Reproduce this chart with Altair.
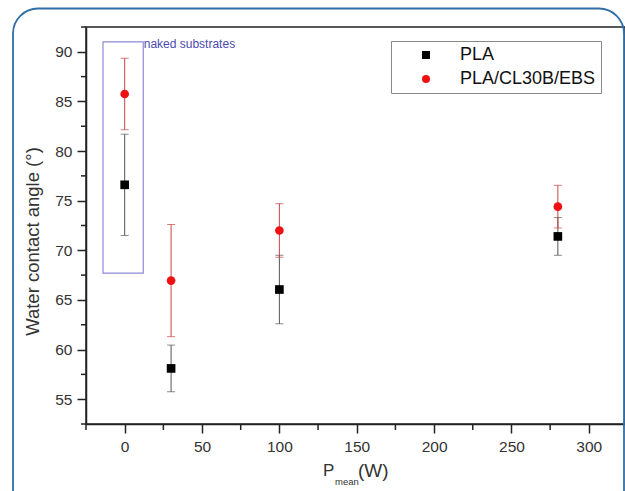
import altair as alt
import pandas as pd

# ---- data ----
powers = [0, 30, 100, 280]
series_names = ["PLA", "PLA/CL30B/EBS"]
pla_mean = [76.6, 58.1, 66.05, 71.4]
pla_err = [5.1, 2.35, 3.45, 1.9]
ebs_mean = [85.75, 66.95, 72.0, 74.4]
ebs_err = [3.6, 5.65, 2.7, 2.15]

x_ticks = [0, 50, 100, 150, 200, 250, 300]
x_minor = [-25, 25, 75, 125, 175, 225, 275]
y_ticks = [55, 60, 65, 70, 75, 80, 85, 90]
y_minor = [52.5, 57.5, 62.5, 67.5, 72.5, 77.5, 82.5, 87.5, 92.5]
x_domain = [-25, 323.4]
y_domain = [52.5, 92.5]

box_x = [-14, 12]
box_y = [67.7, 91.0]
box_label = "naked substrates"
y_title = "Water contact angle (°)"

rows = []
for name, means, errs in ((series_names[0], pla_mean, pla_err),
                          (series_names[1], ebs_mean, ebs_err)):
    for p, m, e in zip(powers, means, errs):
        rows.append(dict(power=p, series=name, mean=m, lo=m - e, hi=m + e))
df = pd.DataFrame(rows)

FONT = "Liberation Sans"

x_axis = alt.Axis(values=x_ticks, title=None, grid=False, tickSize=9,
                  labelPadding=6)
y_axis = alt.Axis(values=y_ticks, title=y_title, grid=False, tickSize=9,
                  labelPadding=5, titleX=-48, titleY=214,
                  titleBaseline="alphabetic", titleFontSize=18.5,
                  titleFontWeight="normal", titleColor="#333333",
                  titleFont=FONT)


def X(field):
    return alt.X(f"{field}:Q", scale=alt.Scale(domain=x_domain, nice=False, zero=False),
                 axis=x_axis, title=None)


def Y(field):
    return alt.Y(f"{field}:Q", scale=alt.Scale(domain=y_domain, nice=False, zero=False),
                 axis=y_axis, title=y_title)


one = pd.DataFrame({"k": [0]})

card = alt.Chart(one).mark_rect(cornerRadius=25, fillOpacity=0, stroke="#2f6fa8",
                                strokeWidth=1.8).encode(
    x=alt.value(-73), x2=alt.value(538), y=alt.value(-18.5), y2=alt.value(495))

box_df = pd.DataFrame({"x": [box_x[0]], "x2": [box_x[1]], "y": [box_y[0]], "y2": [box_y[1]]})
box = alt.Chart(box_df).mark_rect(fillOpacity=0, stroke="#8c8cd8", strokeWidth=1.2).encode(
    x=X("x"), x2="x2", y=Y("y"), y2="y2")

box_text_df = pd.DataFrame({"x": [box_x[1]], "y": [box_y[1]], "t": [box_label]})
box_text = alt.Chart(box_text_df).mark_text(align="left", baseline="middle", dy=2.5, dx=0.5,
                                            fontSize=12, color="#4b4bb0", font=FONT).encode(
    x=X("x"), y=Y("y"), text="t:N")

ymin = alt.Chart(pd.DataFrame({"v": y_minor})).mark_rule(color="#222222", strokeWidth=1.5).encode(
    y=Y("v"), x=alt.value(-5), x2=alt.value(0))
xmin = alt.Chart(pd.DataFrame({"v": x_minor})).mark_rule(color="#222222", strokeWidth=1.5).encode(
    x=X("v"), y=alt.value(397), y2=alt.value(403))

err_color = alt.condition(alt.datum.series == "PLA", alt.value("#555555"), alt.value("#cc4444"))

rules = alt.Chart(df).mark_rule(strokeWidth=1).encode(
    x=X("power"), y=Y("lo"), y2="hi", color=err_color)
caps_lo = alt.Chart(df).mark_tick(orient="horizontal", size=8, thickness=1).encode(
    x=X("power"), y=Y("lo"), color=err_color)
caps_hi = alt.Chart(df).mark_tick(orient="horizontal", size=8, thickness=1).encode(
    x=X("power"), y=Y("hi"), color=err_color)

leg = alt.Legend(title=None, orient="none", legendX=305, legendY=14, direction="vertical",
                 fillColor="white", strokeColor="#888888", padding=5, symbolOffset=21,
                 labelOffset=25, labelFontSize=18, labelFont=FONT, labelColor="#111111",
                 rowPadding=6, symbolSize=64, symbolStrokeWidth=0, labelLimit=400)

points = alt.Chart(df).mark_point(filled=True, size=75, opacity=1).encode(
    x=X("power"), y=Y("mean"),
    color=alt.Color("series:N", scale=alt.Scale(domain=series_names,
                                                range=["#000000", "#ee1111"]), legend=leg),
    shape=alt.Shape("series:N", scale=alt.Scale(domain=series_names,
                                                range=["square", "circle"]), legend=leg))

t_p = alt.Chart(one).mark_text(text="P", align="left", baseline="alphabetic", fontSize=17,
                               font=FONT, color="#333333").encode(x=alt.value(237), y=alt.value(449))
t_sub = alt.Chart(one).mark_text(text="mean", align="left", baseline="alphabetic", fontSize=9.5,
                                 font=FONT, color="#333333").encode(x=alt.value(249), y=alt.value(458))
t_w = alt.Chart(one).mark_text(text="(W)", align="left", baseline="alphabetic", fontSize=19,
                               font=FONT, color="#333333").encode(x=alt.value(272), y=alt.value(450))

chart = alt.layer(card, box, box_text, ymin, xmin, rules, caps_lo, caps_hi, points,
                  t_p, t_sub, t_w).properties(
    width=539, height=397,
    autosize=alt.AutoSizeParams(type="none"),
    padding={"left": 86, "top": 27, "right": 0, "bottom": 67},
    background="white",
).configure_view(stroke="#222222", strokeWidth=1.5).configure_axis(
    domainColor="#222222", domainWidth=1.5, tickColor="#222222", tickWidth=1.5,
    labelFontSize=15.5, labelFont=FONT, labelColor="#333333",
).configure_legend(strokeWidth=1)

chart.save("out.html", embed_options={"renderer": "svg", "actions": False})
